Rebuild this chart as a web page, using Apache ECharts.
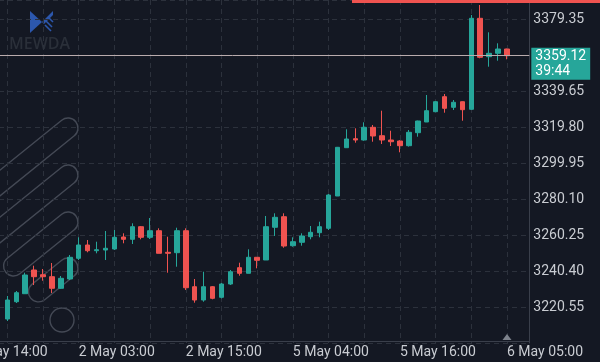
<!DOCTYPE html>
<html><head><meta charset="utf-8">
<script src="https://cdn.jsdelivr.net/npm/echarts@6/dist/echarts.min.js"></script>
<style>html,body{margin:0;padding:0;background:#141823;overflow:hidden;width:600px;height:362px;}
#c{width:667px;height:362px;margin-left:-67px;}</style>
</head><body><div id="c"></div>
<script>
// ---- data ----
const opens = [
3213.93, 3223.47, 3227.88, 3240.95, 3238.36, 3237.26, 3230.86, 3235.99, 3247.40, 3254.73,
3251.59, 3251.98, 3252.53, 3259.15, 3257.88, 3264.83, 3258.98, 3262.62, 3250.71, 3250.49,
3262.62, 3231.74, 3224.41, 3231.74, 3225.90, 3233.23, 3242.23, 3239.13, 3247.96, 3246.47,
3264.50, 3270.34, 3254.35, 3256.22, 3259.31, 3261.52, 3263.94, 3281.75, 3308.39, 3313.35,
3312.63, 3319.63, 3315.00, 3312.63, 3312.08, 3309.49, 3316.66, 3322.56, 3328.24, 3336.51,
3330.66, 3333.75, 3329.56, 3379.74, 3358.56, 3360.44, 3362.81];
const closes = [
3224.41, 3228.44, 3238.19, 3237.26, 3237.26, 3230.86, 3236.37, 3247.96, 3254.73, 3251.59,
3252.14, 3252.92, 3258.98, 3257.88, 3264.83, 3258.98, 3262.62, 3250.16, 3250.16, 3262.62,
3231.19, 3224.41, 3231.74, 3225.34, 3233.23, 3240.01, 3239.13, 3247.96, 3246.30, 3264.83,
3270.01, 3254.17, 3256.55, 3259.70, 3261.74, 3264.83, 3282.30, 3308.61, 3313.18, 3312.63,
3319.63, 3314.84, 3312.63, 3311.69, 3309.49, 3316.88, 3323.11, 3328.79, 3333.75, 3330.11,
3333.42, 3329.34, 3379.74, 3358.23, 3360.44, 3362.81, 3359.12];
const lows = [
3212.83, 3222.75, 3227.88, 3232.68, 3235.05, 3228.27, 3230.50, 3235.44, 3246.47, 3250.71,
3250.16, 3246.47, 3252.00, 3255.67, 3255.29, 3257.88, 3258.04, 3250.16, 3239.46, 3242.77,
3229.93, 3222.92, 3223.47, 3224.80, 3225.30, 3232.70, 3237.81, 3239.13, 3241.88, 3246.47,
3259.70, 3253.24, 3253.80, 3254.35, 3257.88, 3258.98, 3263.00, 3281.75, 3308.39, 3311.14,
3312.24, 3311.69, 3310.43, 3309.32, 3305.85, 3309.00, 3314.45, 3322.56, 3328.00, 3327.68,
3329.17, 3323.27, 3329.30, 3357.68, 3353.05, 3356.36, 3357.13];
const highs = [
3226.62, 3229.37, 3239.46, 3243.32, 3241.50, 3244.81, 3237.64, 3249.23, 3258.98, 3257.49,
3256.55, 3262.45, 3263.00, 3261.19, 3266.70, 3265.20, 3269.62, 3263.94, 3259.31, 3264.27,
3263.94, 3235.99, 3240.01, 3232.10, 3233.80, 3240.95, 3244.97, 3252.36, 3247.96, 3270.72,
3272.21, 3272.21, 3258.98, 3261.19, 3265.21, 3267.59, 3282.85, 3308.80, 3318.53, 3319.08,
3322.39, 3320.90, 3328.79, 3317.76, 3312.50, 3318.15, 3323.30, 3337.45, 3334.00, 3337.99,
3334.69, 3333.90, 3381.55, 3387.07, 3372.02, 3365.95, 3363.00];
const xLabelIdx = [-4, 8, 20, 32, 44, 56];
const xLabelText = ['1 May 14:00', '2 May 03:00', '2 May 15:00', '5 May 04:00', '5 May 16:00', '6 May 05:00'];
const yTickStep = 19.85;
const yMin = 3200.70;
const yMax = 3389.83;
const lastPrice = 3359.12;
const countdown = '39:44';

const UP = '#26a69a', DOWN = '#ef5350';
const GRID = '#2c313c';
const TEXT = '#c9ccd2';
const OFF = 67; // container is shifted left by this many px

const candleData = opens.map((o, i) => [i, o, closes[i], lows[i], highs[i]]);
const lastIdx = opens.length - 1;

// decorative capsules (watermark style, left side)
const ang = 0.68;
function capFromRight(rx, ry, len, th) {
  const cx = rx - Math.cos(ang) * (len / 2 - th / 2);
  const cy = ry + Math.sin(ang) * (len / 2 - th / 2);
  return {
    type: 'rect', x: cx, y: cy, rotation: ang, silent: true,
    shape: { x: -len / 2, y: -th / 2, width: len, height: th, r: th / 2 },
    style: { fill: 'none', stroke: '#444955', lineWidth: 1.4 }
  };
}

const chart = echarts.init(document.getElementById('c'), null, { renderer: 'canvas' });
chart.setOption({
  backgroundColor: '#141823',
  animation: false,
  textStyle: { fontFamily: 'Roboto' },
  grid: { left: 0, right: 70.7, top: 0, bottom: 19, containLabel: false, show: false },
  xAxis: {
    type: 'value', min: -8, max: 58.5, interval: 4, offset: -2,
    axisLine: { show: true, onZero: false, lineStyle: { color: '#3a3f4b', width: 1 } },
    axisTick: { show: false },
    splitLine: { show: true, lineStyle: { color: GRID, type: [5, 4], width: 1 } },
    axisLabel: {
      show: true, color: TEXT, fontSize: 14, fontFamily: 'Roboto', align: 'left', margin: 4,
      formatter: function (v) {
        const r = Math.round(v);
        if (Math.abs(v - r) > 1e-6) return '';
        const k = xLabelIdx.indexOf(r);
        return k >= 0 ? xLabelText[k] : '';
      }
    }
  },
  yAxis: {
    type: 'value', position: 'right', min: yMin, max: yMax, interval: yTickStep, scale: true,
    axisLine: { show: true, onZero: false, lineStyle: { color: '#3a3f4b', width: 1 } },
    axisTick: { show: false },
    splitLine: { show: true, lineStyle: { color: GRID, type: [5, 4], width: 1 } },
    axisLabel: {
      color: TEXT, fontSize: 14, fontFamily: 'Roboto', margin: 4,
      showMinLabel: false, showMaxLabel: false,
      formatter: v => v.toFixed(2)
    }
  },
  series: [{
    type: 'candlestick',
    data: candleData,
    barWidth: 5,
    itemStyle: { color: UP, color0: DOWN, borderColor: UP, borderColor0: DOWN, borderWidth: 1 },
    markLine: {
      silent: true, symbol: ['none', 'none'], animation: false,
      lineStyle: { color: '#b9abad', width: 1, type: 'solid' },
      label: {
        show: true, position: 'end', distance: 2, offset: [0, 8],
        formatter: lastPrice.toFixed(2) + '\n' + countdown,
        backgroundColor: UP, color: '#ffffff', fontSize: 14, fontFamily: 'Roboto',
        lineHeight: 15, padding: [1, 4, 1, 4], borderRadius: 0
      },
      data: [{ yAxis: lastPrice }]
    },
    markPoint: {
      silent: true, animation: false,
      data: [{ coord: [lastIdx, yMin], symbol: 'triangle', symbolSize: [9, 6], symbolOffset: [0, -6],
               itemStyle: { color: '#7d828c' }, label: { show: false } }]
    }
  }],
  graphic: [
    { type: 'rect', z: 20, silent: true, shape: { x: 352 + OFF, y: 0, width: 260, height: 3 }, style: { fill: '#ef5350' } },
    {
      type: 'group', x: OFF, y: 0, z: -5, silent: true,
      children: [
        { type: 'polygon', shape: { points: [[30, 11], [30, 33], [42, 22]] }, style: { fill: '#2c57ad' } },
        { type: 'polygon', shape: { points: [[42, 22], [53, 11], [53, 15], [44, 24]] }, style: { fill: '#2c57ad' } },
        { type: 'line', shape: { x1: 46, y1: 21, x2: 52, y2: 27 }, style: { stroke: '#2c57ad', lineWidth: 1.6 } },
        { type: 'line', shape: { x1: 45, y1: 25, x2: 51, y2: 31 }, style: { stroke: '#2c57ad', lineWidth: 1.6 } },
        { type: 'line', shape: { x1: 49, y1: 18, x2: 53, y2: 22 }, style: { stroke: '#2c57ad', lineWidth: 1.6 } },
        { type: 'text', x: 9, y: 36, style: { text: 'MEWDA', fill: '#2a2f39', font: '600 16px "Open Sans"', letterSpacing: 2.5 } },
        capFromRight(68, 128, 170, 20),
        capFromRight(68, 175, 170, 20),
        capFromRight(68, 222, 90, 20),
        capFromRight(68, 268, 58, 20),
        { type: 'circle', shape: { cx: 62, cy: 320, r: 12 }, style: { fill: 'none', stroke: '#444955', lineWidth: 1.4 } }
      ]
    }
  ]
});
</script></body></html>
